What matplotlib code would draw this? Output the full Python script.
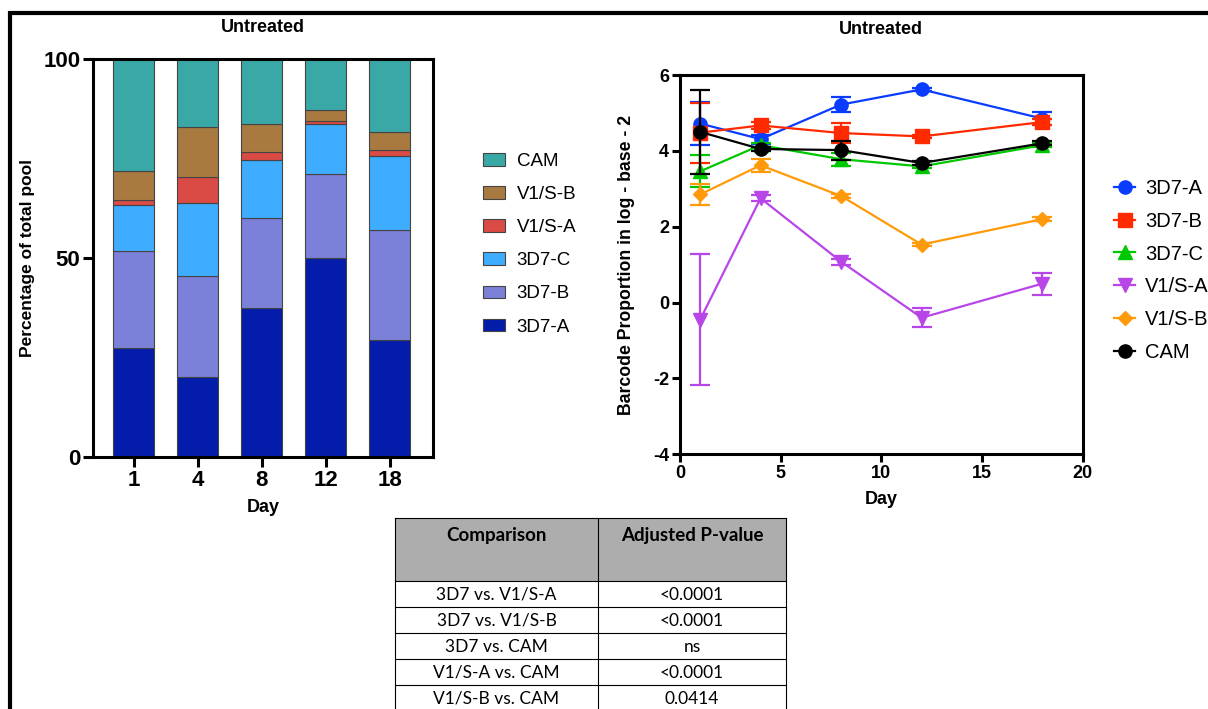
import matplotlib.pyplot as plt
import numpy as np
from matplotlib.patches import Rectangle
from matplotlib.lines import Line2D

plt.rcParams['font.family'] = ['Liberation Sans', 'DejaVu Sans']
plt.rcParams['axes.unicode_minus'] = False

# stacked bars (percentage of total pool)
days_bar = ['1', '4', '8', '12', '18']
stack_names = ['3D7-A', '3D7-B', '3D7-C', 'V1/S-A', 'V1/S-B', 'CAM']
stack_colors = ['#031DAA', '#7B80D8', '#3EACFF', '#D94B44', '#A87A40', '#3BA8A8']
pct_3d7a = [27.5, 20.1, 37.4, 49.9, 29.3]
pct_3d7b = [24.3, 25.4, 22.7, 21.3, 27.8]
pct_3d7c = [11.6, 18.2, 14.4, 12.5, 18.5]
pct_v1sa = [1.1, 6.7, 2.1, 0.7, 1.5]
pct_v1sb = [7.4, 12.5, 7.1, 2.8, 4.6]
pct_cam = [28.1, 17.1, 16.3, 12.8, 18.3]

# line chart (log2 barcode proportion) with error bars
days = [1, 4, 8, 12, 18]
line_names = ['3D7-A', '3D7-B', '3D7-C', 'V1/S-A', 'V1/S-B', 'CAM']
line_colors = ['#0A3CFF', '#FF2A00', '#00C800', '#B845E8', '#FF9A0A', '#000000']
line_markers = ['o', 's', '^', 'v', 'D', 'o']
log_3d7a = [4.72, 4.31, 5.22, 5.62, 4.85]
err_3d7a = [0.57, 0.12, 0.20, 0.05, 0.18]
log_3d7b = [4.48, 4.67, 4.47, 4.38, 4.76]
err_3d7b = [0.79, 0.10, 0.27, 0.05, 0.08]
log_3d7c = [3.46, 4.15, 3.78, 3.59, 4.15]
err_3d7c = [0.42, 0.05, 0.17, 0.05, 0.05]
log_v1sa = [-0.45, 2.75, 1.08, -0.40, 0.50]
err_v1sa = [1.72, 0.08, 0.08, 0.25, 0.29]
log_v1sb = [2.85, 3.62, 2.81, 1.53, 2.20]
err_v1sb = [0.28, 0.17, 0.05, 0.05, 0.05]
log_cam = [4.50, 4.05, 4.02, 3.68, 4.20]
err_cam = [1.10, 0.05, 0.25, 0.05, 0.05]

# table
tbl_header = ['Comparison', 'Adjusted P-value']
tbl_comp = ['3D7 vs. V1/S-A', '3D7 vs. V1/S-B', '3D7 vs. CAM', 'V1/S-A vs. CAM', 'V1/S-B vs. CAM']
tbl_pval = ['<0.0001', '<0.0001', 'ns', '<0.0001', '0.0414']

W, H = 1208, 709
fig = plt.figure(figsize=(W / 100, H / 100), dpi=100)

# overlay in pixel coords for border and table
ov = fig.add_axes([0, 0, 1, 1], zorder=0)
ov.set_xlim(0, W)
ov.set_ylim(H, 0)
ov.axis('off')
ov.plot([10, 10, W + 5], [H + 5, 13, 13], color='black', lw=3, solid_joinstyle='miter')

tfont = ['Lato', 'DejaVu Sans']
tx0, tx1, tx2 = 395, 598, 786
ty0, ty1, rh = 518, 581, 26
ov.add_patch(Rectangle((tx0, ty0), tx2 - tx0, ty1 - ty0, facecolor='#ADADAD', edgecolor='none'))
for i, h in enumerate(tbl_header):
    cx = (tx0 + tx1) / 2 if i == 0 else (tx1 + tx2) / 2
    ov.text(cx, 535, h, ha='center', va='center', fontsize=13.5, fontweight='bold', family=tfont)
ylines = [ty0, ty1] + [ty1 + rh * (k + 1) for k in range(len(tbl_comp))]
for y in ylines:
    ov.plot([tx0, tx2], [y, y], color='black', lw=0.8)
for x in (tx0, tx1, tx2):
    ov.plot([x, x], [ty0, H + 5], color='black', lw=0.8)
for k, (c, p) in enumerate(zip(tbl_comp, tbl_pval)):
    yc = ty1 + rh * k + rh / 2 + 1
    ov.text((tx0 + tx1) / 2, yc, c, ha='center', va='center', fontsize=12.5, family=tfont)
    ov.text((tx1 + tx2) / 2, yc, p, ha='center', va='center', fontsize=12.5, family=tfont)

# left: stacked bars
ax1 = fig.add_axes([93 / W, 1 - 457 / H, (432.7 - 93) / W, (457 - 59) / H], zorder=2)
x = np.arange(len(days_bar))
stacks = [pct_3d7a, pct_3d7b, pct_3d7c, pct_v1sa, pct_v1sb, pct_cam]
bottom = np.zeros(len(days_bar))
handles = []
for name, vals, col in zip(stack_names, stacks, stack_colors):
    b = ax1.bar(x, vals, bottom=bottom, width=0.64, color=col, edgecolor='#444444', linewidth=0.8, label=name)
    bottom += np.array(vals)
    handles.append(b)
ax1.set_xlim(-0.64, 4.67)
ax1.set_ylim(0, 100)
ax1.set_yticks([0, 50, 100])
ax1.set_xticks(x)
ax1.set_xticklabels(days_bar)
for s in ax1.spines.values():
    s.set_linewidth(2.2)
ax1.tick_params(width=2.2, length=7, labelsize=16, pad=2)
for lab in ax1.get_xticklabels() + ax1.get_yticklabels():
    lab.set_fontweight('bold')
ax1.set_xlabel('Day', fontsize=13, fontweight='bold', labelpad=6)
ax1.set_ylabel('Percentage of total pool', fontsize=12.5, fontweight='bold', labelpad=6)
fig.text(263 / W, 1 - 27 / H, 'Untreated', ha='center', va='center', fontsize=13, fontweight='bold')

fig.legend(handles[::-1], stack_names[::-1], loc='upper left', bbox_to_anchor=(466 / W, 1 - 136 / H),
           frameon=False, fontsize=13.5, handlelength=1.17, handleheight=0.65, labelspacing=0.86,
           handletextpad=0.64)

# right: lines with error bars
ax2 = fig.add_axes([680 / W, 1 - 454.3 / H, (1082.7 - 680) / W, (454.3 - 75) / H], zorder=2)
series = [log_3d7a, log_3d7b, log_3d7c, log_v1sa, log_v1sb, log_cam]
errs = [err_3d7a, err_3d7b, err_3d7c, err_v1sa, err_v1sb, err_cam]
lhandles = []
order = [5, 4, 3, 2, 1, 0]
for i in order:
    ax2.errorbar(days, series[i], yerr=errs[i], color=line_colors[i], marker=line_markers[i],
                 markersize=9.5 if line_markers[i] != 'D' else 7.5, lw=1.6, capsize=7, capthick=1.6,
                 elinewidth=1.6, zorder=3 + i)
for i in range(6):
    lhandles.append(Line2D([], [], color=line_colors[i], marker=line_markers[i], lw=1.6,
                           markersize=9.5 if line_markers[i] != 'D' else 7.5))
ax2.set_xlim(0, 20)
ax2.set_ylim(-4, 6)
ax2.set_xticks([0, 5, 10, 15, 20])
ax2.set_yticks([-4, -2, 0, 2, 4, 6])
for s in ax2.spines.values():
    s.set_linewidth(2.2)
ax2.tick_params(width=2.2, length=6, labelsize=13, pad=2)
for lab in ax2.get_xticklabels() + ax2.get_yticklabels():
    lab.set_fontweight('bold')
ax2.set_xlabel('Day', fontsize=13, fontweight='bold', labelpad=6)
ax2.set_ylabel('Barcode Proportion in log - base - 2', fontsize=12.7, fontweight='bold', labelpad=13)
fig.text(881 / W, 1 - 29 / H, 'Untreated', ha='center', va='center', fontsize=13, fontweight='bold')

fig.legend(lhandles, line_names, loc='upper left', bbox_to_anchor=(1096 / W, 1 - 161 / H),
           frameon=False, fontsize=14.5, handlelength=1.05, labelspacing=0.68, handletextpad=0.5)

fig.savefig('out.png', dpi=100)
